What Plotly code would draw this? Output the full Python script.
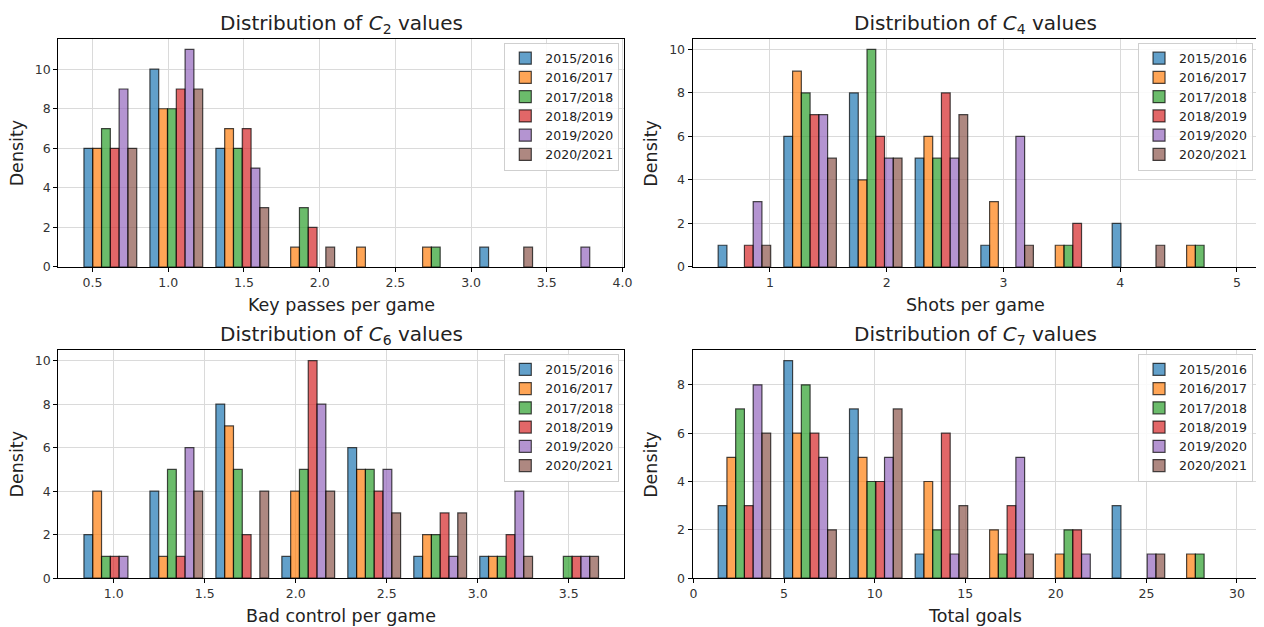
import plotly.graph_objects as go

# ---------------- data ----------------
seasons = ["2015/2016", "2016/2017", "2017/2018", "2018/2019", "2019/2020", "2020/2021"]
season_rgb = ["31,119,180", "255,127,14", "44,160,44", "214,39,40", "148,103,189", "140,86,75"]

n_bins = 8

# C2 : Key passes per game
c2_edges = [0.40, 3.885]
c2_counts = [
    [6, 10, 6, 0, 0, 0, 1, 0],
    [6, 8, 7, 1, 1, 1, 0, 0],
    [7, 8, 6, 3, 0, 1, 0, 0],
    [6, 9, 7, 2, 0, 0, 0, 0],
    [9, 11, 5, 0, 0, 0, 0, 1],
    [6, 9, 3, 1, 0, 0, 1, 0],
]

# C4 : Shots per game
c4_edges = [0.5, 5.0]
c4_counts = [
    [1, 6, 8, 5, 1, 0, 2, 0],
    [0, 9, 4, 6, 3, 1, 0, 1],
    [0, 8, 10, 5, 0, 1, 0, 1],
    [1, 7, 6, 8, 0, 2, 0, 0],
    [3, 7, 5, 5, 6, 0, 0, 0],
    [1, 5, 5, 7, 1, 0, 1, 0],
]

# C6 : Bad control per game
c6_edges = [0.8, 3.7]
c6_counts = [
    [2, 4, 8, 1, 6, 1, 1, 0],
    [4, 1, 7, 4, 5, 2, 1, 0],
    [1, 5, 5, 5, 5, 2, 1, 1],
    [1, 1, 2, 10, 4, 3, 2, 1],
    [1, 6, 0, 8, 5, 1, 4, 1],
    [0, 4, 4, 4, 3, 3, 1, 1],
]

# C7 : Total goals
c7_edges = [1.0, 30.0]
c7_counts = [
    [3, 9, 7, 1, 0, 0, 3, 0],
    [5, 6, 5, 4, 2, 1, 0, 1],
    [7, 8, 4, 2, 1, 2, 0, 1],
    [3, 6, 4, 6, 3, 2, 0, 0],
    [8, 5, 5, 1, 5, 1, 1, 0],
    [6, 2, 7, 3, 1, 0, 1, 0],
]

chart_subs = ["2", "4", "6", "7"]
chart_xlabels = ["Key passes per game", "Shots per game", "Bad control per game", "Total goals"]
chart_dticks = [0.5, 1, 0.5, 5]
chart_formats = [".1f", "d", ".1f", "d"]

# ---------------- layout geometry (pixels) ----------------
W, H = 1264, 627
col_px = [(55.7, 626.7), (695.6, 1264.0)]
row_px = [(39.0, 270.0), (353.7, 584.7)]


def fx(p):
    return p / W


def fy(p):
    return 1 - p / H


charts = [
    (c2_edges, c2_counts, 0, 0),
    (c4_edges, c4_counts, 0, 1),
    (c6_edges, c6_counts, 1, 0),
    (c7_edges, c7_counts, 1, 1),
]

fig = go.Figure()
layout = dict(
    width=W, height=H,
    margin=dict(l=0, r=0, t=0, b=0),
    paper_bgcolor="white", plot_bgcolor="white",
    barmode="group", bargap=0.2, bargroupgap=0,
    font=dict(family="DejaVu Sans", color="#222222"),
    annotations=[],
)

axis_font = dict(family="DejaVu Sans", size=12.5, color="#333333")

for i, (edges, counts, r, c) in enumerate(charts):
    lo, hi = edges
    w = (hi - lo) / n_bins
    centers = [lo + w * (k + 0.5) for k in range(n_bins)]
    dlo, dhi = lo + 0.1 * w, hi - 0.1 * w
    pad = 0.05 * (dhi - dlo)
    ymax = max(max(s) for s in counts)

    sfx = "" if i == 0 else str(i + 1)
    xa, ya = "x" + sfx, "y" + sfx
    leg = "legend" + sfx

    for s, name in enumerate(seasons):
        fig.add_trace(go.Bar(
            x=centers, y=[v if v else None for v in counts[s]], name=name,
            marker=dict(color=f"rgba({season_rgb[s]},0.7)",
                        line=dict(color="rgba(0,0,0,0.7)", width=1.2)),
            xaxis=xa, yaxis=ya, legend=leg, showlegend=True,
        ))

    x0, x1 = col_px[c]
    y0, y1 = row_px[r]
    x1_full = 1266.0 if c == 1 else x1
    layout["xaxis" + sfx] = dict(
        domain=[fx(x0), fx(x1)], anchor=ya,
        range=[dlo - pad, dhi + pad],
        dtick=chart_dticks[i], tick0=0, tickformat=chart_formats[i],
        ticks="outside", ticklen=4, tickwidth=1, tickcolor="black",
        tickfont=axis_font,
        showgrid=True, gridcolor="#dadada", gridwidth=1,
        showline=True, linecolor="black", linewidth=1, mirror=True,
        zeroline=False,
    )
    layout["yaxis" + sfx] = dict(
        domain=[fy(y1), fy(y0)], anchor=xa,
        range=[0, ymax * 1.05],
        dtick=2, tick0=0,
        ticks="outside", ticklen=4, tickwidth=1, tickcolor="black",
        tickfont=axis_font,
        showgrid=True, gridcolor="#dadada", gridwidth=1,
        showline=True, linecolor="black", linewidth=1, mirror=(c == 0),
        zeroline=False,
    )
    layout[leg] = dict(
        x=fx(x1_full - 5), xanchor="right",
        y=fy(y0 + 4), yanchor="top",
        bgcolor="rgba(255,255,255,0.85)", bordercolor="#cfcfcf", borderwidth=1,
        font=dict(family="DejaVu Sans", size=12.5, color="#222222"),
    )
    # title
    layout["annotations"].append(dict(
        text=f"Distribution of <i>C</i><sub>{chart_subs[i]}</sub> values",
        xref="paper", yref="paper", x=fx((x0 + x1_full) / 2), y=fy(y0),
        xanchor="center", yanchor="bottom", yshift=0, showarrow=False,
        font=dict(family="DejaVu Sans", size=20, color="#222222"),
    ))
    # x label
    layout["annotations"].append(dict(
        text=chart_xlabels[i], xref="paper", yref="paper",
        x=fx((x0 + x1_full) / 2), y=fy(y1 + 38.5),
        xanchor="center", yanchor="middle", showarrow=False,
        font=dict(family="DejaVu Sans", size=17.5, color="#222222"),
    ))
    # y label
    layout["annotations"].append(dict(
        text="Density", xref="paper", yref="paper",
        x=fx(x0 - 42), y=fy((y0 + y1) / 2),
        xanchor="center", yanchor="middle", textangle=-90, showarrow=False,
        font=dict(family="DejaVu Sans", size=17.5, color="#222222"),
    ))

fig.update_layout(**layout)
fig.write_html("out.html")
